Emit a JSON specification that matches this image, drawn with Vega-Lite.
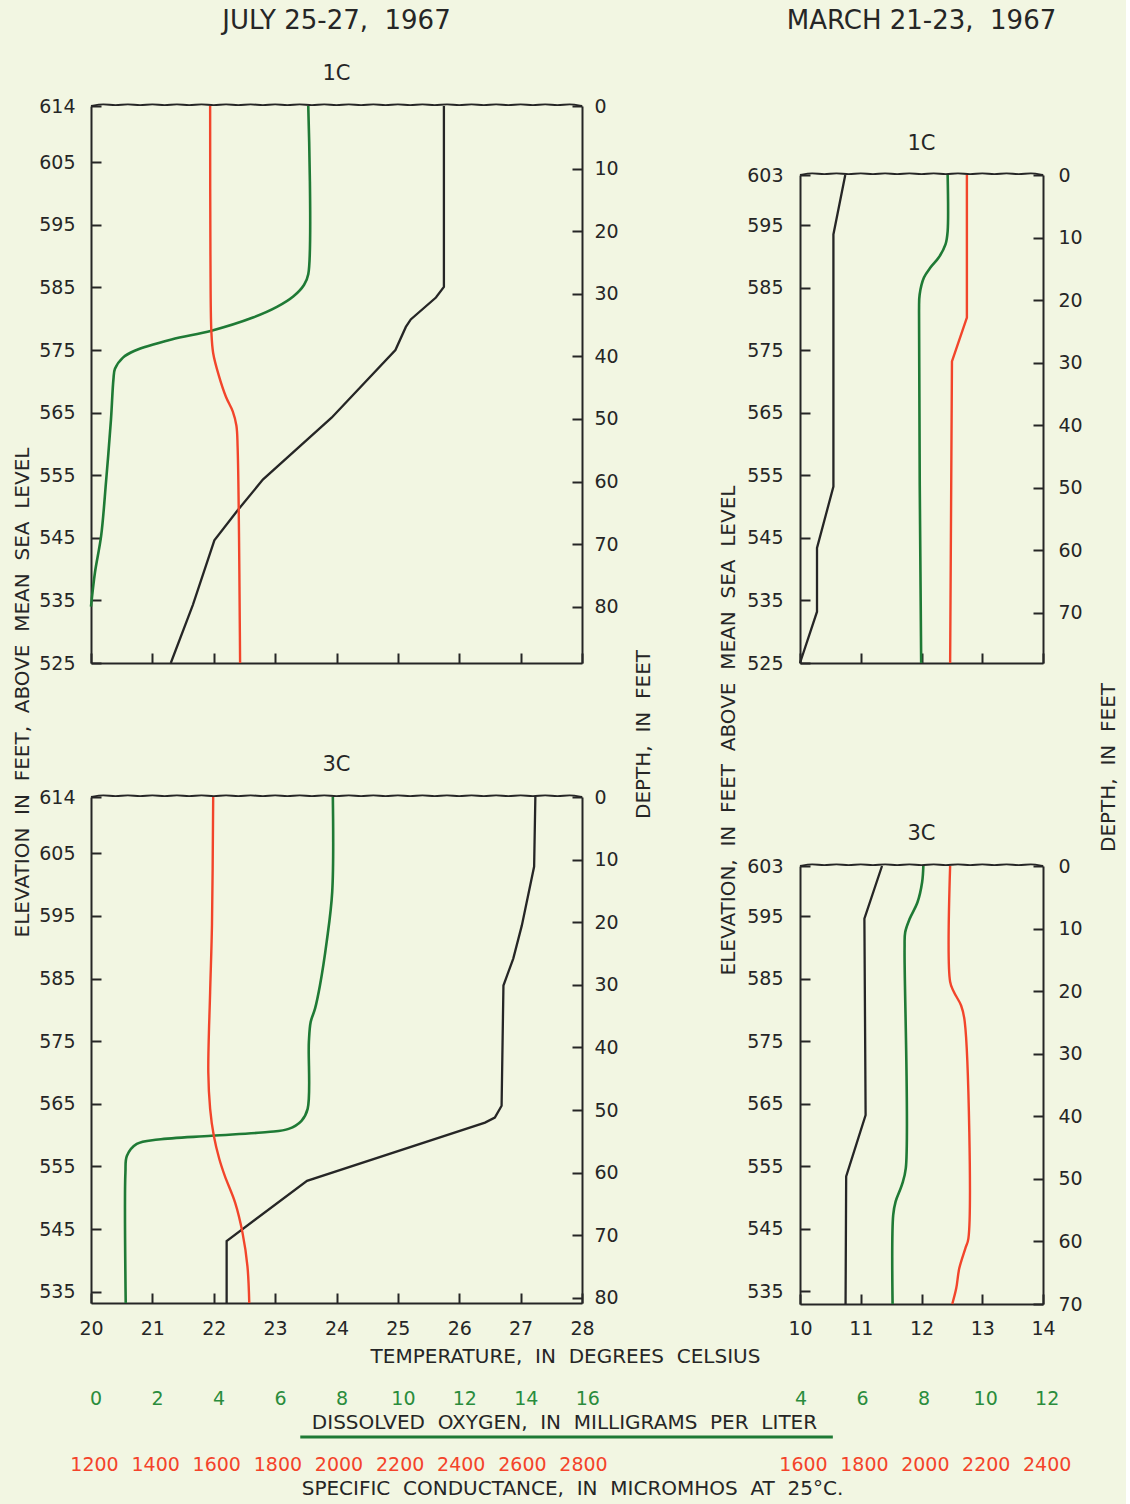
{
  "$schema": "https://vega.github.io/schema/vega-lite/v6.json",
  "background": "#f2f6e2",
  "padding": {"left": 12, "top": 8, "right": 8, "bottom": 6},
  "config": {
    "view": {"stroke": null},
    "font": "DejaVu Sans",
    "axis": {"grid": false, "labelFont": "DejaVu Sans", "labelFontSize": 19, "labelColor": "#262626", "labelFlush": false, "labelOverlap": false, "domainColor": "#262626", "domainWidth": 2, "tickColor": "#262626", "tickWidth": 2, "tickSize": -10, "titleFont": "DejaVu Sans", "titleFontSize": 20, "titleFontWeight": "normal", "titleColor": "#262626"},
    "title": {"font": "DejaVu Sans", "fontWeight": "normal", "color": "#262626", "subtitleFont": "DejaVu Sans", "subtitleColor": "#262626", "subtitleFontWeight": "normal", "frame": "group", "anchor": "middle", "fontSize": 21, "subtitleFontSize": 21}
  },
  "datasets": {
    "waveL": [{"t":20.0,"e":614.0},{"t":20.2,"e":614.4},{"t":20.4,"e":614.0},{"t":20.6,"e":614.4},{"t":20.8,"e":614.0},{"t":21.0,"e":614.4},{"t":21.2,"e":614.0},{"t":21.4,"e":614.4},{"t":21.6,"e":614.0},{"t":21.8,"e":614.4},{"t":22.0,"e":614.0},{"t":22.2,"e":614.4},{"t":22.4,"e":614.0},{"t":22.6,"e":614.4},{"t":22.8,"e":614.0},{"t":23.0,"e":614.4},{"t":23.2,"e":614.0},{"t":23.4,"e":614.4},{"t":23.6,"e":614.0},{"t":23.8,"e":614.4},{"t":24.0,"e":614.0},{"t":24.2,"e":614.4},{"t":24.4,"e":614.0},{"t":24.6,"e":614.4},{"t":24.8,"e":614.0},{"t":25.0,"e":614.4},{"t":25.2,"e":614.0},{"t":25.4,"e":614.4},{"t":25.6,"e":614.0},{"t":25.8,"e":614.4},{"t":26.0,"e":614.0},{"t":26.2,"e":614.4},{"t":26.4,"e":614.0},{"t":26.6,"e":614.4},{"t":26.8,"e":614.0},{"t":27.0,"e":614.4},{"t":27.2,"e":614.0},{"t":27.4,"e":614.4},{"t":27.6,"e":614.0},{"t":27.8,"e":614.4},{"t":28.0,"e":614.0}],
    "waveR": [{"t":10.0,"e":603.0},{"t":10.2,"e":603.4},{"t":10.4,"e":603.0},{"t":10.6,"e":603.4},{"t":10.8,"e":603.0},{"t":11.0,"e":603.4},{"t":11.2,"e":603.0},{"t":11.4,"e":603.4},{"t":11.6,"e":603.0},{"t":11.8,"e":603.4},{"t":12.0,"e":603.0},{"t":12.2,"e":603.4},{"t":12.4,"e":603.0},{"t":12.6,"e":603.4},{"t":12.8,"e":603.0},{"t":13.0,"e":603.4},{"t":13.2,"e":603.0},{"t":13.4,"e":603.4},{"t":13.6,"e":603.0},{"t":13.8,"e":603.4},{"t":14.0,"e":603.0}],
    "jul1C_temp": [{"e":614,"t":25.75},{"e":585.1,"t":25.75},{"e":583.4,"t":25.62},{"e":579.9,"t":25.21},{"e":578.7,"t":25.13},{"e":575.0,"t":24.96},{"e":564.2,"t":23.92},{"e":554.3,"t":22.8},{"e":549.4,"t":22.39},{"e":544.6,"t":22.01},{"e":534.3,"t":21.66},{"e":525,"t":21.3}],
    "jul1C_do": [{"e":614,"ox":6.92},{"e":587.1,"ox":6.92},{"e":585.4,"ox":6.78},{"e":583.6,"ox":6.44},{"e":581.9,"ox":5.9},{"e":580.2,"ox":5.12},{"e":578.1,"ox":3.77},{"e":576.7,"ox":2.47},{"e":574.9,"ox":1.27},{"e":573.8,"ox":0.89},{"e":572.0,"ox":0.63},{"e":570.3,"ox":0.58},{"e":563.9,"ox":0.5},{"e":554.0,"ox":0.34},{"e":545.3,"ox":0.18},{"e":539.5,"ox":-0.02},{"e":534.0,"ox":-0.15}],
    "jul1C_sc": [{"e":614,"sc":1580},{"e":590,"sc":1581},{"e":578,"sc":1584},{"e":574.5,"sc":1590},{"e":571,"sc":1608},{"e":567.5,"sc":1632},{"e":565.2,"sc":1654},{"e":562.9,"sc":1666},{"e":559.4,"sc":1670},{"e":525,"sc":1678}],
    "jul3C_temp": [{"e":614,"t":27.24},{"e":602.9,"t":27.22},{"e":593.5,"t":27.02},{"e":588.2,"t":26.88},{"e":583.9,"t":26.72},{"e":564.7,"t":26.69},{"e":562.8,"t":26.58},{"e":562.0,"t":26.42},{"e":552.7,"t":23.52},{"e":543.1,"t":22.21},{"e":533.2,"t":22.21}],
    "jul3C_do": [{"e":614,"ox":7.72},{"e":598.9,"ox":7.7},{"e":590.9,"ox":7.52},{"e":583.9,"ox":7.3},{"e":580.2,"ox":7.14},{"e":578.1,"ox":7.0},{"e":574.9,"ox":6.94},{"e":564.2,"ox":6.9},{"e":562.3,"ox":6.7},{"e":561.0,"ox":6.28},{"e":560.5,"ox":5.6},{"e":559.9,"ox":3.77},{"e":559.3,"ox":2.04},{"e":558.6,"ox":1.34},{"e":556.7,"ox":1.02},{"e":554.0,"ox":0.97},{"e":533.2,"ox":0.98}],
    "jul3C_sc": [{"e":614,"sc":1590},{"e":593.5,"sc":1586},{"e":582.9,"sc":1580},{"e":570.0,"sc":1574},{"e":564.2,"sc":1580},{"e":559.9,"sc":1592},{"e":556.2,"sc":1610},{"e":553.5,"sc":1628},{"e":549.2,"sc":1662},{"e":544.4,"sc":1686},{"e":539.1,"sc":1702},{"e":533.2,"sc":1708}],
    "mar1C_temp": [{"e":603,"t":10.745},{"e":593.5,"t":10.55},{"e":553.2,"t":10.55},{"e":543.4,"t":10.28},{"e":533.2,"t":10.28},{"e":525,"t":10.0}],
    "mar1C_do": [{"e":603,"ox":8.78},{"e":594.0,"ox":8.78},{"e":591.9,"ox":8.71},{"e":589.8,"ox":8.49},{"e":588.2,"ox":8.22},{"e":586.6,"ox":8.01},{"e":583.9,"ox":7.87},{"e":581.2,"ox":7.85},{"e":525,"ox":7.92}],
    "mar1C_sc": [{"e":603,"sc":2138},{"e":580.2,"sc":2138},{"e":573.2,"sc":2089},{"e":525,"sc":2083}],
    "mar3C_temp": [{"e":603,"t":11.35},{"e":594.6,"t":11.06},{"e":563.2,"t":11.08},{"e":553.4,"t":10.76},{"e":533,"t":10.75}],
    "mar3C_do": [{"e":603,"ox":7.99},{"e":600.4,"ox":7.95},{"e":597.2,"ox":7.8},{"e":594.6,"ox":7.55},{"e":592.4,"ox":7.4},{"e":589.8,"ox":7.38},{"e":554.7,"ox":7.42},{"e":552.0,"ox":7.29},{"e":549.4,"ox":7.09},{"e":547.2,"ox":7.01},{"e":533,"ox":6.99}],
    "mar3C_sc": [{"e":603,"sc":2083},{"e":584.5,"sc":2083},{"e":582.9,"sc":2095},{"e":580.7,"sc":2119},{"e":578.1,"sc":2131},{"e":543.5,"sc":2143},{"e":541.9,"sc":2133},{"e":538.7,"sc":2113},{"e":535.5,"sc":2103},{"e":533,"sc":2090}]
  },
  "bounds": "flush",
  "spacing": 709,
  "hconcat": [
    {
      "bounds": "flush",
      "spacing": 134,
      "vconcat": [
        {
          "width": 491,
          "height": 557,
          "title": {"text": "JULY 25-27,\u00a0 1967", "subtitle": "1C", "fontSize": 26, "subtitleFontSize": 21, "subtitlePadding": 29, "offset": 13},
          "resolve": {"scale": {"x": "independent"}, "axis": {"y": "independent"}},
          "layer": [
            {
              "data": {"name": "jul1C_temp"},
              "mark": {"type": "line", "color": "#262626", "strokeWidth": 2.3},
              "encoding": {
                "x": {"field": "t", "type": "quantitative", "scale": {"domain": [20, 28], "nice": false, "zero": false}, "axis": {"orient": "bottom", "values": [20,21,22,23,24,25,26,27,28], "labels": false, "title": null}},
                "y": {"field": "e", "type": "quantitative", "scale": {"domain": [525, 614], "nice": false, "zero": false}, "axis": {"orient": "left", "values": [614,605,595,585,575,565,555,545,535,525], "format": "d", "labelPadding": 26, "title": "ELEVATION\u00a0 IN\u00a0 FEET,\u00a0 ABOVE\u00a0 MEAN\u00a0 SEA\u00a0 LEVEL", "titleX": -69, "titleY": 586, "titleAngle": 270, "titleAlign": "center", "titleBaseline": "middle"}},
                "order": {"field": "e", "type": "quantitative"}
              }
            },
            {
              "data": {"name": "jul1C_do"},
              "mark": {"type": "line", "color": "#1f7a35", "strokeWidth": 2.6, "interpolate": "catmull-rom"},
              "encoding": {
                "x": {"field": "ox", "type": "quantitative", "scale": {"domain": [0, 16], "range": [4.6, 496.3], "nice": false, "zero": false}, "axis": null},
                "y": {"field": "e", "type": "quantitative", "scale": {"domain": [525, 614], "nice": false, "zero": false}, "axis": null},
                "order": {"field": "e", "type": "quantitative"}
              }
            },
            {
              "data": {"name": "jul1C_sc"},
              "mark": {"type": "line", "color": "#f2452b", "strokeWidth": 2.4, "interpolate": "catmull-rom"},
              "encoding": {
                "x": {"field": "sc", "type": "quantitative", "scale": {"domain": [1200, 2800], "range": [3, 492], "nice": false, "zero": false}, "axis": null},
                "y": {"field": "e", "type": "quantitative", "scale": {"domain": [525, 614], "nice": false, "zero": false}, "axis": null},
                "order": {"field": "e", "type": "quantitative"}
              }
            },
            {
              "data": {"name": "waveL"},
              "mark": {"type": "line", "color": "#262626", "strokeWidth": 1.9, "interpolate": "basis"},
              "encoding": {
                "x": {"field": "t", "type": "quantitative", "scale": {"domain": [20, 28], "nice": false, "zero": false}, "axis": null},
                "y": {"field": "e", "type": "quantitative", "scale": {"domain": [525, 614], "nice": false, "zero": false}, "axis": {"orient": "right", "values": [614,604,594,584,574,564,554,544,534], "labelExpr": "format(614 - datum.value, 'd')", "labelPadding": 22, "title": "DEPTH,\u00a0 IN\u00a0 FEET", "titleX": 61, "titleY": 628, "titleAngle": 270, "titleAlign": "center", "titleBaseline": "middle"}}
              }
            }
          ]
        },
        {
          "width": 491,
          "height": 506,
          "title": {"text": "3C", "fontSize": 21, "offset": 13},
          "resolve": {"scale": {"x": "independent"}, "axis": {"y": "independent"}},
          "layer": [
            {
              "data": {"name": "jul3C_temp"},
              "mark": {"type": "line", "color": "#262626", "strokeWidth": 2.3},
              "encoding": {
                "x": {"field": "t", "type": "quantitative", "scale": {"domain": [20, 28], "nice": false, "zero": false}, "axis": {"orient": "bottom", "values": [20,21,22,23,24,25,26,27,28], "format": "d", "labelPadding": 26, "title": "TEMPERATURE,\u00a0 IN\u00a0 DEGREES\u00a0 CELSIUS", "titleX": 474, "titleY": 53, "titleAngle": 0, "titleAlign": "center", "titleBaseline": "middle"}},
                "y": {"field": "e", "type": "quantitative", "scale": {"domain": [533.2, 614], "nice": false, "zero": false}, "axis": {"orient": "left", "values": [614,605,595,585,575,565,555,545,535], "format": "d", "labelPadding": 26, "title": null}},
                "order": {"field": "e", "type": "quantitative"}
              }
            },
            {
              "data": {"name": "jul3C_do"},
              "mark": {"type": "line", "color": "#1f7a35", "strokeWidth": 2.6, "interpolate": "catmull-rom"},
              "encoding": {
                "x": {"field": "ox", "type": "quantitative", "scale": {"domain": [0, 16], "range": [4.6, 496.3], "nice": false, "zero": false}, "axis": {"orient": "bottom", "offset": 86, "values": [0,2,4,6,8,10,12,14,16], "format": "d", "ticks": false, "domain": false, "labelPadding": 0, "labelColor": "#2a8c3c", "title": "DISSOLVED\u00a0 OXYGEN,\u00a0 IN\u00a0 MILLIGRAMS\u00a0 PER\u00a0 LITER", "titleX": 473, "titleY": 33, "titleAngle": 0, "titleAlign": "center", "titleBaseline": "middle"}},
                "y": {"field": "e", "type": "quantitative", "scale": {"domain": [533.2, 614], "nice": false, "zero": false}, "axis": null},
                "order": {"field": "e", "type": "quantitative"}
              }
            },
            {
              "data": {"name": "jul3C_sc"},
              "mark": {"type": "line", "color": "#f2452b", "strokeWidth": 2.4, "interpolate": "catmull-rom"},
              "encoding": {
                "x": {"field": "sc", "type": "quantitative", "scale": {"domain": [1200, 2800], "range": [3, 492], "nice": false, "zero": false}, "axis": {"orient": "bottom", "offset": 152, "values": [1200,1400,1600,1800,2000,2200,2400,2600,2800], "format": "d", "ticks": false, "domain": false, "labelPadding": 0, "labelColor": "#f4432a", "title": "SPECIFIC\u00a0 CONDUCTANCE,\u00a0 IN\u00a0 MICROMHOS\u00a0 AT\u00a0 25°C.", "titleX": 481, "titleY": 33, "titleAngle": 0, "titleAlign": "center", "titleBaseline": "middle"}},
                "y": {"field": "e", "type": "quantitative", "scale": {"domain": [533.2, 614], "nice": false, "zero": false}, "axis": null},
                "order": {"field": "e", "type": "quantitative"}
              }
            },
            {
              "data": {"name": "waveL"},
              "mark": {"type": "line", "color": "#262626", "strokeWidth": 1.9, "interpolate": "basis"},
              "encoding": {
                "x": {"field": "t", "type": "quantitative", "scale": {"domain": [20, 28], "nice": false, "zero": false}, "axis": null},
                "y": {"field": "e", "type": "quantitative", "scale": {"domain": [533.2, 614], "nice": false, "zero": false}, "axis": {"orient": "right", "values": [614,604,594,584,574,564,554,544,534], "labelExpr": "format(614 - datum.value, 'd')", "labelPadding": 22, "title": null}}
              }
            },
            {
              "data": {"values": [{}]},
              "mark": {"type": "rule", "color": "#1f7a35", "strokeWidth": 3},
              "encoding": {
                "x": {"datum": 6.66, "type": "quantitative", "scale": {"domain": [0, 16], "range": [4.6, 496.3], "nice": false, "zero": false}, "axis": null},
                "x2": {"datum": 23.99},
                "y": {"datum": 511.8, "type": "quantitative", "scale": {"domain": [533.2, 614], "nice": false, "zero": false}, "axis": null}
              }
            }
          ]
        }
      ]
    },
    {
      "bounds": "flush",
      "spacing": 0,
      "vconcat": [
        {
          "width": 243,
          "height": 69,
          "data": {"values": [{}]},
          "mark": {"type": "point", "opacity": 0}
        },
        {
          "bounds": "flush",
          "spacing": 203,
          "vconcat": [
            {
              "width": 243,
              "height": 488,
              "title": {"text": "MARCH 21-23,\u00a0 1967", "subtitle": "1C", "fontSize": 26, "subtitleFontSize": 21, "subtitlePadding": 99, "offset": 12},
              "resolve": {"scale": {"x": "independent"}, "axis": {"y": "independent"}},
              "layer": [
                {
                  "data": {"name": "mar1C_temp"},
                  "mark": {"type": "line", "color": "#262626", "strokeWidth": 2.3},
                  "encoding": {
                    "x": {"field": "t", "type": "quantitative", "scale": {"domain": [10, 14], "nice": false, "zero": false}, "axis": {"orient": "bottom", "values": [10,11,12,13,14], "labels": false, "title": null}},
                    "y": {"field": "e", "type": "quantitative", "scale": {"domain": [525, 603], "nice": false, "zero": false}, "axis": {"orient": "left", "values": [603,595,585,575,565,555,545,535,525], "format": "d", "labelPadding": 27, "title": "ELEVATION,\u00a0 IN\u00a0 FEET\u00a0 ABOVE\u00a0 MEAN\u00a0 SEA\u00a0 LEVEL", "titleX": -72, "titleY": 555, "titleAngle": 270, "titleAlign": "center", "titleBaseline": "middle"}},
                    "order": {"field": "e", "type": "quantitative"}
                  }
                },
                {
                  "data": {"name": "mar1C_do"},
                  "mark": {"type": "line", "color": "#1f7a35", "strokeWidth": 2.6, "interpolate": "catmull-rom"},
                  "encoding": {
                    "x": {"field": "ox", "type": "quantitative", "scale": {"domain": [4, 12], "range": [0.6, 246.7], "nice": false, "zero": false}, "axis": null},
                    "y": {"field": "e", "type": "quantitative", "scale": {"domain": [525, 603], "nice": false, "zero": false}, "axis": null},
                    "order": {"field": "e", "type": "quantitative"}
                  }
                },
                {
                  "data": {"name": "mar1C_sc"},
                  "mark": {"type": "line", "color": "#f2452b", "strokeWidth": 2.4},
                  "encoding": {
                    "x": {"field": "sc", "type": "quantitative", "scale": {"domain": [1600, 2400], "range": [3, 246.7], "nice": false, "zero": false}, "axis": null},
                    "y": {"field": "e", "type": "quantitative", "scale": {"domain": [525, 603], "nice": false, "zero": false}, "axis": null},
                    "order": {"field": "e", "type": "quantitative"}
                  }
                },
                {
                  "data": {"name": "waveR"},
                  "mark": {"type": "line", "color": "#262626", "strokeWidth": 1.9, "interpolate": "basis"},
                  "encoding": {
                    "x": {"field": "t", "type": "quantitative", "scale": {"domain": [10, 14], "nice": false, "zero": false}, "axis": null},
                    "y": {"field": "e", "type": "quantitative", "scale": {"domain": [525, 603], "nice": false, "zero": false}, "axis": {"orient": "right", "values": [603,593,583,573,563,553,543,533], "labelExpr": "format(603 - datum.value, 'd')", "labelPadding": 25, "title": "DEPTH,\u00a0 IN\u00a0 FEET", "titleX": 65, "titleY": 592, "titleAngle": 270, "titleAlign": "center", "titleBaseline": "middle"}}
                  }
                }
              ]
            },
            {
              "width": 243,
              "height": 438,
              "title": {"text": "3C", "fontSize": 21, "offset": 13},
              "resolve": {"scale": {"x": "independent"}, "axis": {"y": "independent"}},
              "layer": [
                {
                  "data": {"name": "mar3C_temp"},
                  "mark": {"type": "line", "color": "#262626", "strokeWidth": 2.3},
                  "encoding": {
                    "x": {"field": "t", "type": "quantitative", "scale": {"domain": [10, 14], "nice": false, "zero": false}, "axis": {"orient": "bottom", "values": [10,11,12,13,14], "format": "d", "labelPadding": 25, "title": null}},
                    "y": {"field": "e", "type": "quantitative", "scale": {"domain": [533, 603], "nice": false, "zero": false}, "axis": {"orient": "left", "values": [603,595,585,575,565,555,545,535], "format": "d", "labelPadding": 27, "title": null}},
                    "order": {"field": "e", "type": "quantitative"}
                  }
                },
                {
                  "data": {"name": "mar3C_do"},
                  "mark": {"type": "line", "color": "#1f7a35", "strokeWidth": 2.6, "interpolate": "catmull-rom"},
                  "encoding": {
                    "x": {"field": "ox", "type": "quantitative", "scale": {"domain": [4, 12], "range": [0.6, 246.7], "nice": false, "zero": false}, "axis": {"orient": "bottom", "offset": 85, "values": [4,6,8,10,12], "format": "d", "ticks": false, "domain": false, "labelPadding": 0, "labelColor": "#2a8c3c", "title": null}},
                    "y": {"field": "e", "type": "quantitative", "scale": {"domain": [533, 603], "nice": false, "zero": false}, "axis": null},
                    "order": {"field": "e", "type": "quantitative"}
                  }
                },
                {
                  "data": {"name": "mar3C_sc"},
                  "mark": {"type": "line", "color": "#f2452b", "strokeWidth": 2.4, "interpolate": "catmull-rom"},
                  "encoding": {
                    "x": {"field": "sc", "type": "quantitative", "scale": {"domain": [1600, 2400], "range": [3, 246.7], "nice": false, "zero": false}, "axis": {"orient": "bottom", "offset": 151, "values": [1600,1800,2000,2200,2400], "format": "d", "ticks": false, "domain": false, "labelPadding": 0, "labelColor": "#f4432a", "title": null}},
                    "y": {"field": "e", "type": "quantitative", "scale": {"domain": [533, 603], "nice": false, "zero": false}, "axis": null},
                    "order": {"field": "e", "type": "quantitative"}
                  }
                },
                {
                  "data": {"name": "waveR"},
                  "mark": {"type": "line", "color": "#262626", "strokeWidth": 1.9, "interpolate": "basis"},
                  "encoding": {
                    "x": {"field": "t", "type": "quantitative", "scale": {"domain": [10, 14], "nice": false, "zero": false}, "axis": null},
                    "y": {"field": "e", "type": "quantitative", "scale": {"domain": [533, 603], "nice": false, "zero": false}, "axis": {"orient": "right", "values": [603,593,583,573,563,553,543,533], "labelExpr": "format(603 - datum.value, 'd')", "labelPadding": 25, "title": null}}
                  }
                }
              ]
            }
          ]
        }
      ]
    }
  ]
}
